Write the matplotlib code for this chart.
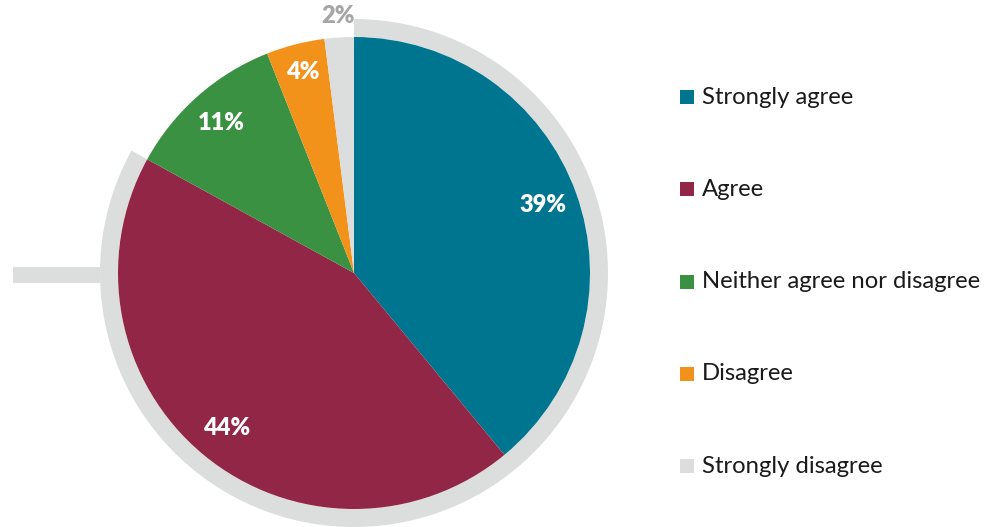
import numpy as np
import matplotlib.pyplot as plt
from matplotlib.patches import Wedge, Rectangle

# survey answers, share in percent
categories = ['Strongly agree', 'Agree', 'Neither agree nor disagree', 'Disagree', 'Strongly disagree']
values = [39, 44, 11, 4, 2]
colors = ['#00758f', '#922646', '#3b9142', '#f2921b', '#dcdedd']
label_colors = ['white', 'white', 'white', 'white', '#a6a6a6']
label_dist = [0.85, 0.85, 0.85, 0.88, 1.09]

plt.rcParams['font.family'] = ['Lato', 'DejaVu Sans']

W, H = 999, 527
fig = plt.figure(figsize=(W / 100, H / 100), dpi=100)
ax = fig.add_axes([0, 0, 1, 1])
ax.set_xlim(0, W)
ax.set_ylim(0, H)
ax.set_aspect('equal')
ax.axis('off')

cx, cy, r = 354, H - 273, 236

wedges, _ = ax.pie(values, colors=colors, startangle=90, counterclock=False,
                   radius=r, center=(cx, cy),
                   wedgeprops=dict(edgecolor='none', linewidth=0))
ax.set_xlim(0, W)
ax.set_ylim(0, H)

# grey highlight ring around the "agree" share
agree_share = (values[0] + values[1]) / sum(values)
ring = Wedge((cx, cy), r + 18, 90 - agree_share * 360, 90, width=18,
             facecolor='#dcdedd', edgecolor='none', zorder=0)
ax.add_patch(ring)
ax.add_patch(Rectangle((13, H - 283), 87, 16, facecolor='#dcdedd', edgecolor='none', zorder=0))

# value labels
cum = np.cumsum([0] + values[:-1])
for v, c0, col, d in zip(values, cum, label_colors, label_dist):
    ang = np.deg2rad(90 - (c0 + v / 2) / sum(values) * 360)
    ax.text(cx + d * r * np.cos(ang), cy + d * r * np.sin(ang), f'{v}%',
            ha='center', va='center', color=col, fontsize=17, fontweight='heavy')

# legend
for i, (cat, col) in enumerate(zip(categories, colors)):
    y = H - (97 + i * 92.3)
    ax.add_patch(Rectangle((680, y - 7), 14, 14, facecolor=col, edgecolor='none'))
    ax.text(702, y, cat, ha='left', va='center', fontsize=17.2, color='#1a1a1a')

fig.savefig('out.png', dpi=100)
